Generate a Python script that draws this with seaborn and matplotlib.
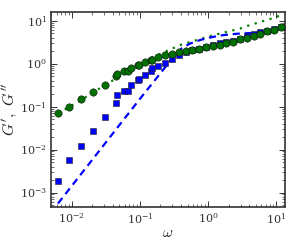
import numpy as np
import pandas as pd
import matplotlib
matplotlib.use("Agg")
import matplotlib.pyplot as plt
import seaborn as sns

# ---- data ----
omega = [0.00627, 0.00925, 0.01369, 0.02046, 0.03026, 0.04493, 0.0468, 0.0589,
         0.0667, 0.0741, 0.0933, 0.0986, 0.1175, 0.1465, 0.148, 0.186, 0.234,
         0.295, 0.372, 0.468, 0.589, 0.741, 0.933, 1.175, 1.48, 1.86, 2.34,
         2.95, 3.72, 4.68, 5.89, 7.41, 9.33, 11.75]
g_storage = [0.00188, 0.0057, 0.01226, 0.0269, 0.057, 0.1187, 0.182, 0.233,
             0.233, 0.311, 0.407, 0.443, 0.54, 0.669, 0.773, 0.875, 1.055,
             1.293, 1.577, 1.881, 2.061, 2.175, 2.381, 2.737, 2.95, 3.162,
             3.39, 3.773, 4.36, 4.853, 5.316, 5.79, 6.24, 7.176]
g_loss = [0.0695, 0.100, 0.148, 0.220, 0.325, 0.520, 0.585, 0.659, 0.669,
          0.773, 0.923, 0.948, 1.084, 1.239, 1.239, 1.417, 1.56, 1.708, 1.812,
          1.932, 2.083, 2.221, 2.393, 2.553, 2.722, 2.997, 3.214, 3.654, 3.981,
          4.479, 4.931, 5.609, 6.178, 7.176]

model_omega = [0.00627, 0.01333, 0.0262, 0.0514, 0.101, 0.1984, 0.278, 0.3404,
               0.4168, 0.546, 0.766, 1.073, 1.504, 2.109, 2.956, 4.143, 5.807,
               8.14, 11.41]
model_storage = [0.000555, 0.00255, 0.0100, 0.0392, 0.1535, 0.585, 1.143, 1.708,
                 2.294, 2.918, 3.521, 4.024, 4.479, 4.775, 4.985, 5.12, 5.26,
                 5.345, 5.40]
loss_omega = [0.00627, 0.01333, 0.02996, 0.0674, 0.1416, 0.1984, 0.278, 0.390,
              0.546, 0.766, 1.073, 1.504, 2.109, 2.956, 4.143, 5.807, 8.14, 11.41]
model_loss = [0.0688, 0.138, 0.308, 0.669, 1.342, 1.663, 2.117, 2.693, 3.162,
              3.713, 4.36, 4.985, 5.70, 6.516, 7.86, 9.23, 10.84, 13.07]

pts = pd.DataFrame({"omega": omega, "Gp": g_storage, "Gpp": g_loss})
mod_p = pd.DataFrame({"omega": model_omega, "G": model_storage})
mod_pp = pd.DataFrame({"omega": loss_omega, "G": model_loss})

sns.set_theme(style="ticks")
plt.rcParams.update({
    "font.family": ["DejaVu Serif"],
    "mathtext.fontset": "cm",
    "xtick.direction": "in",
    "ytick.direction": "in",
    "xtick.top": True,
    "ytick.right": True,
    "xtick.minor.visible": True,
    "ytick.minor.visible": True,
    "axes.edgecolor": "#333333",
    "axes.linewidth": 1.2,
    "xtick.color": "#333333",
    "ytick.color": "#333333",
    "xtick.labelcolor": "#333333",
    "ytick.labelcolor": "#333333",
})

fig = plt.figure(figsize=(3.0, 2.45), dpi=100)
ax = fig.add_axes([0.17, 0.155, 0.78, 0.796])

sns.lineplot(data=mod_pp, x="omega", y="G", ax=ax, color="#008000",
             linestyle=(0, (1, 2.5)), linewidth=1.6, estimator=None, sort=False, zorder=2)
sns.lineplot(data=mod_p, x="omega", y="G", ax=ax, color="#0000ff",
             linestyle=(0, (3.2, 2.2)), linewidth=1.6, estimator=None, sort=False, zorder=2)
sns.scatterplot(data=pts, x="omega", y="Gp", ax=ax, marker="s", s=24,
                color="#0000ff", edgecolor="#222222", linewidth=0.4, zorder=3)
sns.scatterplot(data=pts, x="omega", y="Gpp", ax=ax, marker="o", s=28,
                color="#007000", edgecolor="#111111", linewidth=0.4, zorder=4)

ax.set_xscale("log")
ax.set_yscale("log")
ax.set_xlim(0.00495, 13.5)
ax.set_ylim(4.6e-4, 15.8)
ax.tick_params(which="major", length=4, width=0.7, labelsize=8, pad=3)
ax.tick_params(which="minor", length=2, width=0.5)
ax.set_xlabel(r"$\omega$", fontsize=11, labelpad=0)
ax.set_ylabel(r"$G^{\prime},\ G^{\prime\prime}$", fontsize=11.5)
ax.yaxis.set_label_coords(-0.138, 0.5)

fig.savefig("out.png", dpi=100)
